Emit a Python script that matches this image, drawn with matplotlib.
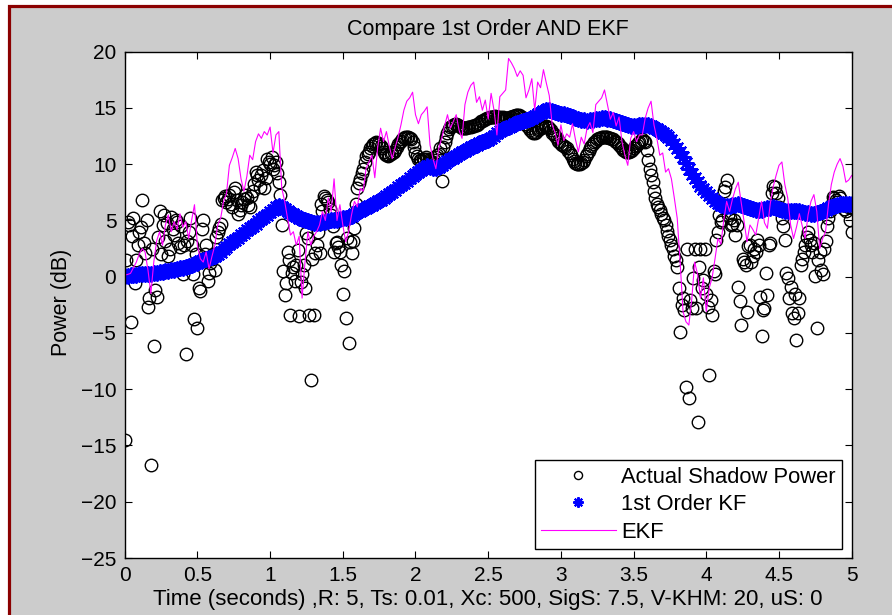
import numpy as np
import matplotlib
matplotlib.use('Agg')
import matplotlib.pyplot as plt
from matplotlib.patches import Rectangle

plt.rcParams['font.family'] = ['Liberation Sans', 'DejaVu Sans']

Ts = 0.01

# actual shadow power (dB) at t = 0.00, 0.02, ... 5.00, one row = 0.2 s
actual_even = [
    -14.5, 4.9, -4.0, 5.2, 1.5, 4.0, 6.8, 2.1, -2.7, -16.7,
    -6.2, -1.8, 5.8, 4.6, 3.2, 1.8, 5.3, 3.7, 4.9, 2.6,
    0.2, -6.9, 4.0, 2.8, -3.8, -4.6, -1.3, 5.0, 2.8, 0.3,
    1.6, 0.6, 4.0, 4.7, 7.0, 6.6, 7.3, 6.2, 7.9, 5.6,
    6.4, 6.9, 7.0, 6.2, 7.6, 9.3, 8.6, 9.0, 7.9, 10.5,
    10.0, 9.6, 10.2, 8.4, 4.6, -1.6, 2.2, -3.4, 0.9, 1.0,
    -3.5, 0.2, -1.0, 3.4, -9.2, -3.4, 2.8, 2.1, 5.8, 7.0,
    6.6, 5.5, 2.2, 3.1, 2.2, -1.5, -3.7, -5.9, 2.1, 4.3,
    7.9, 8.7, 9.6, 10.7, 11.1, 11.6, 11.9, 11.9, 11.6, 11.1,
    10.8, 10.8, 11.0, 11.3, 11.8, 12.1, 12.3, 12.4, 12.3, 12.0,
    11.0, 10.5, 10.4, 10.5, 10.5, 10.3, 10.2, 10.6, 10.9, 8.5,
    12.0, 12.8, 13.3, 13.5, 13.6, 13.4, 13.2, 13.2, 13.3, 13.3,
    13.4, 13.5, 13.7, 13.8, 14.0, 14.1, 14.2, 14.2, 14.2, 14.2,
    14.2, 14.1, 14.1, 14.2, 14.3, 14.4, 14.3, 14.1, 13.6, 13.2,
    12.9, 12.8, 13.0, 13.2, 13.3, 13.4, 13.2, 12.8, 12.5, 12.1,
    11.8, 11.6, 11.4, 11.0, 10.5, 10.1, 10.0, 10.1, 10.4, 10.9,
    11.4, 11.8, 12.1, 12.3, 12.4, 12.4, 12.4, 12.3, 12.2, 12.0,
    11.7, 11.4, 11.2, 11.1, 11.2, 11.4, 11.7, 12.0, 12.2, 12.0,
    10.4, 9.0, 7.6, 6.5, 5.9, 5.2, 4.6, 3.6, 2.8, 1.8,
    0.9, -4.9, -1.9, -9.8, -10.8, -2.8, 2.5, -12.9, 2.5, -0.3,
    -1.5, -8.7, -3.4, 0.2, 4.0, 4.9, 7.6, 8.6, 5.2, 4.7,
    3.7, -0.9, -4.3, 1.3, -3.1, 2.8, 1.8, 2.2, 2.8, -5.3,
    -2.8, -1.6, 3.0, 8.1, 7.4, 6.2, 5.2, 3.3, -0.1, -0.9,
    -3.7, -5.6, -1.9, 1.6, 2.8, 4.0, 2.8, 3.0, -4.6, 2.2,
    0.2, 3.2, 5.2, 6.4, 7.0, 6.6, 7.0, 6.5, 5.8, 6.2,
    4.0,
]

# actual shadow power at t = 0.01, 0.03, ... 4.99
actual_odd = [
    1.5, 4.6, 3.6, -0.6, 2.8, 4.4, 3.0, 5.0, -1.9, 2.5,
    -1.2, 3.5, 2.0, 5.5, 4.8, 2.5, 4.2, 5.0, 3.0, 4.5,
    2.8, 3.2, 5.2, 0.2, 2.0, -1.0, 4.2, 2.0, -0.4, 1.2,
    2.0, 3.5, 4.3, 6.8, 7.2, 6.9, 6.5, 7.5, 6.8, 5.9,
    6.6, 7.3, 6.4, 7.2, 8.2, 9.0, 8.0, 9.5, 8.8, 10.2,
    10.6, 9.9, 9.2, 7.3, 0.5, -0.6, 1.5, 0.3, -0.4, 2.4,
    -0.5, 1.0, 3.9, -3.4, 1.6, 2.1, 4.0, 6.5, 7.2, 6.8,
    6.0, 4.5, 3.0, 2.6, 1.0, 0.5, 3.4, 3.1, 3.2, 6.5,
    8.3, 9.2, 10.2, 10.9, 11.4, 11.8, 12.0, 11.8, 11.4, 10.9,
    10.7, 10.9, 11.1, 11.5, 12.0, 12.2, 12.4, 12.4, 12.2, 11.5,
    10.7, 10.4, 10.5, 10.6, 10.4, 10.2, 10.4, 10.8, 11.4, 11.5,
    12.4, 13.1, 13.4, 13.6, 13.5, 13.3, 13.2, 13.2, 13.3, 13.4,
    13.5, 13.6, 13.8, 13.9, 14.1, 14.2, 14.2, 14.3, 14.2, 14.1,
    14.1, 14.1, 14.2, 14.3, 14.4, 14.4, 14.2, 13.9, 13.4, 13.0,
    12.8, 12.9, 13.1, 13.3, 13.4, 13.3, 13.0, 12.7, 12.3, 12.0,
    11.7, 11.5, 11.2, 10.8, 10.3, 10.0, 10.0, 10.2, 10.7, 11.2,
    11.6, 12.0, 12.2, 12.3, 12.4, 12.4, 12.3, 12.2, 12.1, 11.9,
    11.5, 11.3, 11.1, 11.1, 11.3, 11.6, 11.9, 12.1, 12.1, 11.3,
    9.6, 8.4, 7.0, 6.2, 5.6, 5.0, 4.1, 3.3, 2.5, 1.5,
    -1.0, -2.5, -3.0, 2.5, -2.1, -0.1, -2.8, 0.9, -1.0, 2.5,
    -2.7, -2.1, 0.5, 3.3, 5.5, 5.0, 8.0, 5.5, 4.6, 5.0,
    4.6, -2.2, 1.6, 1.0, 2.7, 1.3, 2.5, 3.3, -1.8, -3.0,
    0.3, 2.8, 7.4, 8.0, 7.0, 5.9, 4.5, 0.3, -1.9, -3.2,
    -1.5, -3.2, 1.0, 2.2, 3.5, 3.3, 2.2, 0.1, 1.5, 0.6,
    2.5, 4.5, 5.8, 7.1, 6.8, 7.2, 6.4, 6.0, 6.3, 5.0,
]

# 1st order KF estimate, t = 0.00, 0.02, ... 5.00
kf = [
    0.10, 0.10, 0.12, 0.15, 0.18, 0.20, 0.22, 0.24, 0.26, 0.28,
    0.30, 0.34, 0.38, 0.43, 0.48, 0.53, 0.58, 0.63, 0.68, 0.74,
    0.80, 0.86, 0.93, 1.02, 1.12, 1.25, 1.38, 1.48, 1.56, 1.63,
    1.72, 1.85, 2.02, 2.22, 2.45, 2.67, 2.88, 3.08, 3.28, 3.48,
    3.70, 3.92, 4.12, 4.32, 4.52, 4.72, 4.92, 5.10, 5.30, 5.50,
    5.72, 5.95, 6.18, 6.30, 6.22, 6.02, 5.85, 5.70, 5.55, 5.40,
    5.25, 5.10, 5.00, 4.92, 4.85, 4.80, 4.76, 4.78, 4.84, 4.90,
    4.95, 5.00, 5.04, 5.08, 5.12, 5.18, 5.24, 5.30, 5.42, 5.58,
    5.74, 5.88, 6.00, 6.12, 6.26, 6.40, 6.55, 6.70, 6.85, 7.00,
    7.15, 7.35, 7.55, 7.75, 7.95, 8.15, 8.35, 8.55, 8.75, 8.95,
    9.15, 9.35, 9.52, 9.68, 9.80, 9.75, 9.65, 9.62, 9.75, 9.92,
    10.10, 10.28, 10.42, 10.58, 10.74, 10.90, 11.05, 11.20, 11.35, 11.50,
    11.62, 11.74, 11.85, 11.95, 12.05, 12.18, 12.35, 12.55, 12.75, 12.95,
    13.10, 13.22, 13.34, 13.44, 13.54, 13.64, 13.74, 13.84, 13.92, 14.02,
    14.14, 14.28, 14.42, 14.58, 14.72, 14.80, 14.78, 14.70, 14.62, 14.55,
    14.50, 14.45, 14.40, 14.32, 14.24, 14.15, 14.05, 13.95, 13.90, 13.88,
    13.90, 13.95, 14.00, 14.05, 14.08, 14.08, 14.05, 14.00, 13.92, 13.84,
    13.76, 13.68, 13.60, 13.50, 13.42, 13.38, 13.40, 13.45, 13.50, 13.52,
    13.50, 13.40, 13.25, 13.10, 12.95, 12.80, 12.62, 12.40, 12.12, 11.80,
    11.45, 11.05, 10.60, 10.10, 9.60, 9.15, 8.75, 8.40, 8.10, 7.80,
    7.52, 7.25, 6.98, 6.75, 6.55, 6.40, 6.30, 6.25, 6.28, 6.35,
    6.40, 6.42, 6.38, 6.30, 6.20, 6.10, 6.02, 5.95, 5.92, 5.95,
    6.02, 6.10, 6.15, 6.18, 6.15, 6.05, 5.95, 5.88, 5.85, 5.85,
    5.85, 5.84, 5.80, 5.75, 5.68, 5.62, 5.60, 5.60, 5.65, 5.72,
    5.82, 5.95, 6.08, 6.20, 6.30, 6.38, 6.42, 6.45, 6.48, 6.50,
    6.50,
]

# EKF estimate, t = 0.00, 0.02, ... 5.00
ekf = [
    0.15, 0.2, 0.3, 0.8, 1.3, 2.0, 2.5, 2.2, 0.6, -1.5,
    1.3, 3.2, 4.0, 2.8, 4.6, 5.5, 4.0, 4.9, 4.2, 5.6,
    4.4, 4.9, 3.4, 5.0, 6.4, 2.8, 1.6, 1.3, 2.2, 0.7,
    1.8, 2.8, 4.6, 5.2, 6.7, 7.4, 9.9, 10.6, 11.4, 10.5,
    8.7, 7.6, 8.9, 10.8, 10.4, 12.0, 12.7, 12.3, 12.9, 12.6,
    13.3, 11.0, 12.6, 12.9, 7.9, 6.7, 5.2, 3.7, 4.0, 2.8,
    3.6, -1.9, 1.3, 4.0, 2.8, 3.6, 4.0, 4.6, 5.8, 5.0,
    7.0, 5.8, 8.7, 5.0, 6.4, 4.6, 3.1, 4.0, 5.5, 6.7,
    6.2, 7.85, 7.6, 9.6, 10.2, 10.8, 8.8, 11.5, 13.2, 12.0,
    12.9, 11.6, 10.5, 11.5, 12.4, 13.5, 14.8, 15.6, 15.9, 16.4,
    14.4, 13.6, 14.4, 14.7, 15.1, 11.7, 10.5, 9.6, 11.4, 12.3,
    13.4, 14.4, 13.2, 13.8, 14.4, 13.0, 12.3, 15.3, 16.4, 17.0,
    17.3, 15.5, 16.0, 14.8, 15.7, 14.0, 16.3, 14.8, 12.6, 16.0,
    16.3, 16.6, 19.4, 19.0, 18.5, 17.8, 18.3, 17.9, 15.9, 16.6,
    17.6, 14.8, 17.3, 16.8, 18.4, 17.2, 16.1, 13.5, 12.8, 11.7,
    13.5, 12.1, 12.7, 12.4, 13.6, 12.2, 11.1, 12.4, 11.8, 13.2,
    13.7, 12.8, 15.3, 15.6, 15.9, 16.6, 15.3, 14.0, 14.6, 13.4,
    14.2, 12.0, 10.8, 9.9, 12.3, 12.9, 12.0, 12.6, 12.6, 14.1,
    15.0, 15.6, 13.5, 12.3, 10.8, 11.0, 9.3, 9.6, 8.7, 7.0,
    5.2, 1.3, -3.1, -4.0, -4.3, -2.0, 1.3, 0.2, -1.9, -0.1,
    -3.1, -1.0, -0.1, 1.6, 3.4, 2.9, 5.0, 6.7, 5.8, 6.9,
    7.8, 8.4, 6.6, 4.9, 3.1, 4.6, 4.2, 3.7, 5.2, 6.7,
    4.8, 4.3, 6.5, 8.0, 9.0, 9.9, 10.2, 8.2, 7.0, 4.6,
    3.4, 4.4, 5.6, 4.5, 3.4, 5.5, 6.7, 7.3, 5.8, 2.5,
    3.4, 4.0, 6.4, 8.2, 9.3, 10.0, 10.5, 9.8, 8.4, 8.6,
    9.0,
]

t_even = np.arange(len(actual_even)) * 2 * Ts
t_odd = Ts + np.arange(len(actual_odd)) * 2 * Ts

# merge into one time series at Ts
t_act = np.concatenate([t_even, t_odd])
order = np.argsort(t_act)
t_act = t_act[order]
actual = np.concatenate([actual_even, actual_odd])[order]

x_ticks = [0, 0.5, 1, 1.5, 2, 2.5, 3, 3.5, 4, 4.5, 5]
x_ticklabels = ['0', '0.5', '1', '1.5', '2', '2.5', '3', '3.5', '4', '4.5', '5']
y_ticks = [-25, -20, -15, -10, -5, 0, 5, 10, 15, 20]

title_txt = 'Compare 1st Order AND EKF'
xlabel_txt = 'Time (seconds) ,R: 5, Ts: 0.01, Xc: 500, SigS: 7.5, V-KHM: 20, uS: 0'
ylabel_txt = 'Power (dB)'

W, H = 892, 615
fig = plt.figure(figsize=(W / 100, H / 100), dpi=100, facecolor='white')

# grey window area with dark red edge on the left and top
fig.patches.append(Rectangle((9.3 / W, -0.1), 1.2, 1.1 - 5.9 / H,
                             transform=fig.transFigure, facecolor='#cccccc',
                             edgecolor='#8b0000', linewidth=2.3, zorder=0))

ax = fig.add_axes([124.7 / W, 1 - 558 / H, 727 / W, 506.3 / H])
ax.set_zorder(2)

ax.plot(t_act, actual, 'o', mfc='none', mec='black', ms=9, mew=1.0,
        label='Actual Shadow Power')
ax.plot(t_even, kf, ls='none', marker=(8, 2, 0), color='blue', ms=11.5,
        mew=1.5, label='1st Order KF')
ax.plot(t_even, ekf, '-', color='#ff00ff', lw=0.8, label='EKF')

ax.set_xlim(0, 5)
ax.set_ylim(-25, 20)
ax.set_xticks(x_ticks)
ax.set_xticklabels(x_ticklabels)
ax.set_yticks(y_ticks)
ax.tick_params(direction='in', length=5, width=0.8, top=True, right=True,
               labelsize=15, pad=6)
for s in ax.spines.values():
    s.set_linewidth(1.0)

fig.text(488 / W, 1 - 30 / H, title_txt, ha='center', va='center',
         fontsize=15.5, zorder=3)
fig.text(488 / W, 1 - 600 / H, xlabel_txt, ha='center', va='center',
         fontsize=16, zorder=3)
fig.text(62 / W, 1 - 302 / H, ylabel_txt, ha='center', va='center',
         rotation=90, fontsize=15.5, zorder=3)

leg = ax.legend(loc='lower right', bbox_to_anchor=(842.3 / W, 1 - 549.3 / H),
                bbox_transform=fig.transFigure, borderaxespad=0,
                fancybox=False, edgecolor='black', framealpha=1,
                fontsize=15.8, handlelength=3.4, handletextpad=0.25,
                borderpad=0.3, labelspacing=0.3, markerscale=0.65)
leg.get_frame().set_linewidth(1.0)

fig.savefig('out.png', dpi=100)
